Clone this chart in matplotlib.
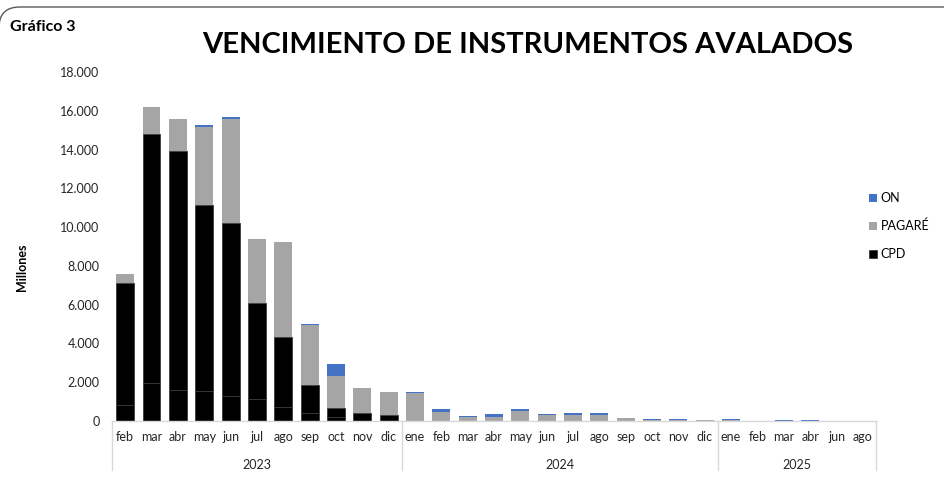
import matplotlib
matplotlib.use("Agg")
import matplotlib.pyplot as plt
from matplotlib.patches import FancyBboxPatch
from matplotlib.lines import Line2D
import numpy as np

plt.rcParams['font.family'] = ['Lato', 'DejaVu Sans']

months = ["feb", "mar", "abr", "may", "jun", "jul", "ago", "sep", "oct", "nov", "dic",
          "ene", "feb", "mar", "abr", "may", "jun", "jul", "ago", "sep", "oct", "nov", "dic",
          "ene", "feb", "mar", "abr", "jun", "ago"]
years = ["2023", "2024", "2025"]
year_counts = [11, 12, 6]

# CPD split into two stacked black segments (bottom part and upper part)
cpd_low = [820, 1960, 1600, 1550, 1290, 1120, 720, 410, 200, 0, 0,
           0, 0, 0, 0, 0, 0, 0, 0, 0, 0, 0, 0,
           0, 0, 0, 0, 0, 0]
cpd_high = [6280, 12840, 12350, 9600, 8910, 4980, 3600, 1450, 490, 400, 290,
            0, 0, 0, 0, 0, 0, 0, 0, 0, 0, 0, 0,
            0, 0, 0, 0, 0, 0]
pagare = [500, 1400, 1650, 4030, 5400, 3270, 4910, 3070, 1650, 1290, 1210,
          1450, 480, 210, 210, 530, 310, 330, 330, 170, 30, 30, 30,
          30, 20, 20, 20, 20, 20]
on = [0, 0, 0, 70, 70, 0, 0, 70, 580, 0, 0,
      50, 120, 50, 150, 70, 50, 100, 100, 0, 50, 50, 0,
      50, 0, 20, 20, 0, 0]

yticks = [0, 2000, 4000, 6000, 8000, 10000, 12000, 14000, 16000, 18000]
ytick_labels = ["0", "2.000", "4.000", "6.000", "8.000", "10.000", "12.000", "14.000", "16.000", "18.000"]

C_ON = "#4472C4"
C_PAG = "#A5A5A5"
C_CPD = "#000000"
C_AX = "#D9D9D9"

fig = plt.figure(figsize=(9.45, 5.01), dpi=100)
ax = fig.add_axes([112/945, 1-421/501, (876-112)/945, (421-72)/501])

x = np.arange(len(months))
w = 0.68
cpd_low_a = np.array(cpd_low, float)
cpd_high_a = np.array(cpd_high, float)
pag_a = np.array(pagare, float)
on_a = np.array(on, float)

ax.bar(x, cpd_low_a, w, color=C_CPD, edgecolor="#3a3a3a", linewidth=0.6)
ax.bar(x, cpd_high_a, w, bottom=cpd_low_a, color=C_CPD, edgecolor="#3a3a3a", linewidth=0.6,
       label="CPD")
b2 = cpd_low_a + cpd_high_a
ax.bar(x, pag_a, w, bottom=b2, color=C_PAG, label="PAGARÉ")
b3 = b2 + pag_a
ax.bar(x, on_a, w, bottom=b3, color=C_ON, label="ON")

ax.set_xlim(-0.5, len(months) - 0.5)
ax.set_ylim(0, 18000)
ax.set_yticks(yticks)
ax.set_yticklabels(ytick_labels, fontsize=9, color="#262626")
ax.tick_params(axis="y", length=0, pad=9)
ax.set_xticks([])
for s in ["top", "right", "left"]:
    ax.spines[s].set_visible(False)
ax.spines["bottom"].set_color(C_AX)
ax.spines["bottom"].set_linewidth(1.0)

trans = ax.get_xaxis_transform()
for i, m in enumerate(months):
    ax.text(i, -0.047, m, transform=trans, ha="center", va="center", fontsize=9, color="#262626")

start = 0
bounds = [-0.5]
for yr, n in zip(years, year_counts):
    center = start + (n - 1) / 2
    ax.text(center, -0.127, yr, transform=trans, ha="center", va="center", fontsize=9, color="#262626")
    start += n
    bounds.append(start - 0.5)
for b in bounds:
    ax.add_line(Line2D([b, b], [0, -0.14], transform=trans, color=C_AX, linewidth=1.0, clip_on=False))

ax.set_ylabel("Millones", fontsize=9, fontweight="bold")
ax.yaxis.set_label_coords(-0.110, 0.441)

# legend
handles, labels = ax.get_legend_handles_labels()
order = [labels.index("ON"), labels.index("PAGARÉ"), labels.index("CPD")]
leg = fig.legend([handles[i] for i in order], [labels[i] for i in order],
                 loc="upper left", bbox_to_anchor=(858/945, 1-181/501), frameon=False,
                 fontsize=9, handlelength=0.6, handleheight=0.6, handletextpad=0.3,
                 labelspacing=1.25)

fig.text(528/945, 1-45/501, "VENCIMIENTO DE INSTRUMENTOS AVALADOS", ha="center", va="center",
         fontsize=21, fontweight="bold", color="black")
fig.text(10/945, 1-27/501, "Gráfico 3", ha="left", va="center", fontsize=11.5, fontweight="bold")

# chart area border: only the top edge with rounded top-left corner is visible
border = FancyBboxPatch((-1/945, -0.2), 1.1, 1.2 - 7/501, boxstyle="round,pad=0,rounding_size=0.022",
                        transform=fig.transFigure, facecolor="none", edgecolor="#595959",
                        linewidth=1.0, mutation_aspect=945/501)
fig.patches.append(border)

fig.savefig("out.png", dpi=100)
